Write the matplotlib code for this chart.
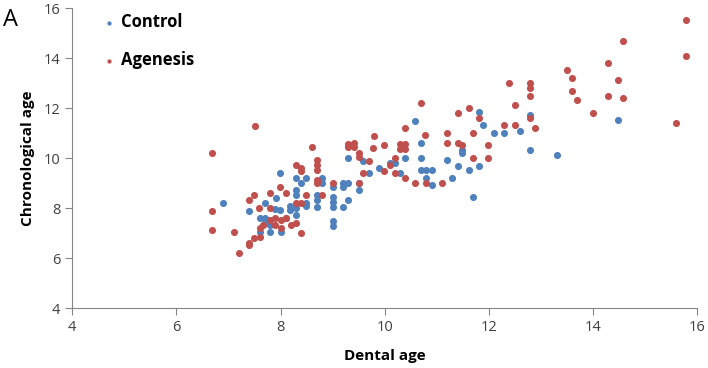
import matplotlib.pyplot as plt

# Control group (dental age, chronological age)
control_x = [6.89, 7.40, 7.60, 7.70, 7.70, 7.70, 7.80, 7.60, 7.80, 8.00, 7.91, 7.90, 7.99,
             7.99, 8.10, 8.18, 8.18, 8.29, 8.29, 8.30, 8.30, 8.30, 8.40, 8.49, 8.49, 8.49,
             8.70, 8.70, 8.70, 8.79, 8.79, 9.00, 9.00, 9.00, 9.00, 9.00, 9.00, 9.19, 9.19,
             9.19, 9.30, 9.30, 9.30, 9.50, 9.50, 9.59, 9.70, 9.89, 10.10, 10.20, 10.30,
             10.39, 10.58, 10.69, 10.69, 10.69, 10.79, 10.79, 10.90, 10.90, 11.19, 11.29,
             11.40, 11.49, 11.49, 11.61, 11.70, 11.80, 11.80, 11.89, 12.09, 12.28, 12.60,
             12.79, 12.79, 13.30, 14.48]
control_y = [8.21, 7.89, 7.61, 7.61, 8.21, 7.41, 7.32, 7.03, 7.03, 7.03, 8.41, 7.96, 7.92,
             9.39, 7.61, 8.08, 7.92, 8.00, 7.72, 9.19, 8.72, 8.52, 8.99, 9.19, 8.21, 8.08,
             8.52, 8.32, 8.03, 9.19, 8.99, 8.83, 8.43, 8.23, 8.03, 7.49, 7.29, 9.01, 8.83,
             8.03, 10.01, 9.01, 8.32, 9.01, 8.72, 9.89, 9.41, 9.59, 9.81, 9.81, 9.41,
             10.01, 11.49, 10.61, 10.01, 9.52, 9.52, 9.19, 9.52, 8.92, 9.92, 9.19,
             9.68, 10.32, 10.21, 9.52, 8.45, 11.83, 9.68, 11.32, 11.01, 11.01, 11.09,
             11.72, 10.32, 10.12, 11.52]

# Agenesis group
agenesis_x = [6.69, 6.69, 6.69, 7.10, 7.20, 7.40, 7.40, 7.40, 7.49, 7.49, 7.50, 7.59, 7.60,
              7.60, 7.67, 7.80, 7.80, 7.80, 7.90, 7.90, 7.99, 8.00, 8.00, 8.10, 8.10, 8.20,
              8.30, 8.30, 8.30, 8.40, 8.40, 8.40, 8.39, 8.49, 8.60, 8.70, 8.70, 8.70, 8.70,
              8.70, 8.79, 9.00, 9.30, 9.40, 9.30, 9.40, 9.50, 9.50, 9.50, 9.59, 9.69, 9.78,
              9.80, 9.99, 9.99, 10.10, 10.20, 10.20, 10.30, 10.39, 10.30, 10.39, 10.39,
              10.39, 10.58, 10.69, 10.78, 10.79, 11.10, 11.19, 11.19, 11.40, 11.40, 11.49,
              11.61, 11.70, 11.70, 11.80, 11.99, 11.99, 12.28, 12.39, 12.50, 12.50, 12.79,
              12.79, 12.79, 12.79, 12.89, 13.49, 13.59, 13.59, 13.69, 13.99, 14.29, 14.29,
              14.48, 14.58, 14.58, 15.59, 15.79, 15.79]
agenesis_y = [10.21, 7.89, 7.12, 7.03, 6.19, 8.32, 6.61, 6.52, 8.52, 6.81, 11.30, 8.01, 7.21,
              6.85, 7.32, 8.61, 8.01, 7.52, 7.60, 7.32, 8.83, 7.52, 7.21, 8.61, 7.61, 7.32,
              9.72, 8.21, 7.41, 9.60, 9.50, 8.21, 7.01, 8.52, 10.43, 9.92, 9.72, 9.52, 9.12,
              8.99, 8.52, 9.01, 10.55, 10.61, 10.45, 10.45, 10.19, 10.03, 8.99, 9.41, 9.89, 10.41,
              10.89, 10.52, 9.49, 9.72, 10.01, 9.41, 10.55, 10.55, 10.35, 10.35, 11.19,
              9.19, 9.01, 12.21, 10.92, 9.01, 8.99, 11.01, 10.61, 11.81, 10.61, 10.52,
              12.01, 11.01, 10.01, 11.61, 10.52, 10.01, 11.32, 13.01, 12.12, 11.32, 13.01,
              12.79, 12.49, 11.59, 11.19, 13.52, 13.21, 12.69, 12.32, 11.81, 13.81, 12.48,
              13.11, 14.69, 12.39, 11.41, 15.52, 14.09]

blue = '#4F81BD'
red = '#C0504D'

plt.rcParams['font.family'] = ['Open Sans', 'DejaVu Sans']

fig = plt.figure(figsize=(7.08, 3.68), dpi=100)
ax = fig.add_axes([0.102, 0.163, 0.883, 0.815])

ax.scatter(control_x, control_y, s=26, color=blue, label='Control', zorder=3, linewidths=0)
ax.scatter(agenesis_x, agenesis_y, s=26, color=red, label='Agenesis', zorder=3, linewidths=0)

ax.set_xlim(4, 16)
ax.set_ylim(4, 16)
ax.set_xticks(range(4, 17, 2))
ax.set_yticks(range(4, 17, 2))

for side in ['top', 'right']:
    ax.spines[side].set_visible(False)
for side in ['left', 'bottom']:
    ax.spines[side].set_color('#868686')
ax.tick_params(direction='out', length=5, color='#868686', labelsize=10.5, labelcolor='#404040')

ax.set_xlabel('Dental age', fontsize=11, fontweight='bold', labelpad=10)
ax.set_ylabel('Chronological age', fontsize=11, fontweight='bold', labelpad=6)

leg = ax.legend(loc='upper left', bbox_to_anchor=(0.032, 1.01), frameon=False,
                prop={'size': 12, 'weight': 'bold'}, markerscale=0.6, borderpad=0,
                handlelength=1.0, handletextpad=0.2, labelspacing=1.2)

fig.text(0.004, 0.93, 'A', fontsize=17)

fig.savefig('out.png', dpi=100)
